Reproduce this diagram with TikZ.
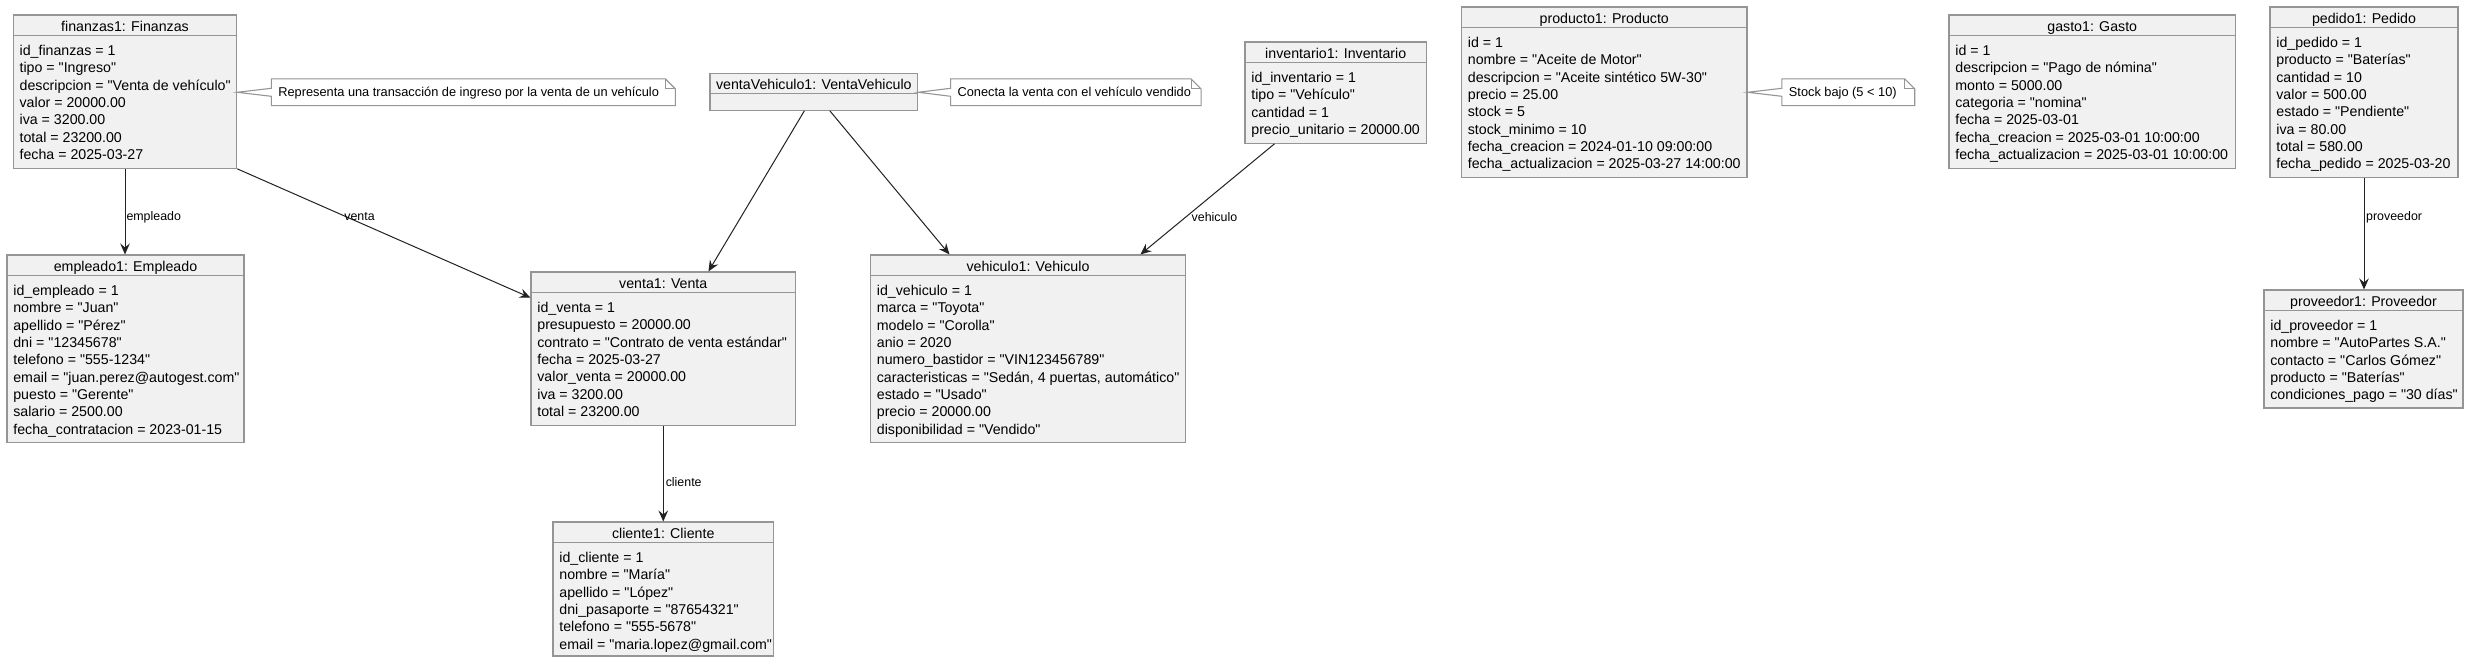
\documentclass[tikz,border=0pt]{standalone}
\usepackage{fontspec}
\newfontfamily\umlfont{Liberation Sans}
\usetikzlibrary{calc,fit,arrows.meta}
\definecolor{boxfill}{HTML}{F1F1F1}
\definecolor{boxc}{HTML}{959595}
\definecolor{linec}{HTML}{222222}
\definecolor{notefill}{HTML}{FFFFFF}
\tikzset{
  objbox/.style={draw=boxc, fill=boxfill, line width=0.55pt, inner sep=0pt},
  hdr/.style={draw=boxc, line width=0.55pt},
  ttl/.style={anchor=base, inner sep=0pt, font=\umlfont\fontsize{7.1}{8.667}\selectfont},
  bodytxt/.style={anchor=north west, inner sep=0pt, align=left, font=\umlfont\fontsize{7.1}{8.667}\selectfont},
  conn/.style={draw=linec, line width=0.5pt, -{Stealth[length=5.5pt,width=4.8pt,inset=2pt]}},
  lbl/.style={anchor=base west, inner sep=0pt, font=\umlfont\fontsize{6.2}{7}\selectfont},
  notebox/.style={draw=boxc, fill=notefill, line width=0.55pt, line join=miter},
  notetxt/.style={anchor=base west, inner sep=0pt, font=\umlfont\fontsize{6.4}{7.5}\selectfont},
  noteframe/.style={inner sep=0pt},
}
\newcommand\objhead[2]{%
  \draw[hdr] ($(#1.north west)+(0,20.7)$) -- ($(#1.north east)+(0,20.7)$);
  \node[ttl] (#1-t) at ($(#1.north)+(0,16.7)$) {#2};}
\newcommand\objbody[2]{%
  \node[bodytxt] (#1-b) at ($(#1.north west)+(6.5,29.5)$) {\rule{0pt}{5.6pt}#2};}
\newcommand\umlnote[3]{%
  \draw[notebox] (#1.north west) -- ($(#1.north east)+(-10,0)$) -- ($(#1.north east)+(0,10)$)
     -- (#1.south east) -- (#1.south west) -- ($(#1.west)+(0,4)$) -- (#2.east |- #1.west)
     -- ($(#1.west)+(0,-4)$) -- cycle;
  \draw[notebox, fill=none] ($(#1.north east)+(-10,0)$) -- ($(#1.north east)+(-10,10)$) -- ($(#1.north east)+(0,10)$);
  \node[notetxt] (#1-t) at ($(#1.west)+(6.6,4.4)$) {#3};}
\begin{document}
\begin{tikzpicture}[x=0.5pt,y=-0.5pt]
\fill[white] (0,0) rectangle (2469,662);
\useasboundingbox (0,0) rectangle (2469,662);

% boxes
\node[objbox, fit={(13.3,15) (236.7,168.3)}] (finanzas) {};
\objhead{finanzas}{finanzas1: Finanzas}
\objbody{finanzas}{id\_finanzas = 1\\tipo = "Ingreso"\\descripcion = "Venta de vehículo"\\valor = 20000.00\\iva = 3200.00\\total = 23200.00\\fecha = 2025-03-27}

\node[objbox, fit={(7,255) (244,442.9)}] (empleado) {};
\objhead{empleado}{empleado1: Empleado}
\objbody{empleado}{id\_empleado = 1\\nombre = "Juan"\\apellido = "Pérez"\\dni = "12345678"\\telefono = "555-1234"\\email = "juan.perez@autogest.com"\\puesto = "Gerente"\\salario = 2500.00\\fecha\_contratacion = 2023-01-15}

\node[objbox, fit={(531,272) (795.5,425.3)}] (venta) {};
\objhead{venta}{venta1: Venta}
\objbody{venta}{id\_venta = 1\\presupuesto = 20000.00\\contrato = "Contrato de venta estándar"\\fecha = 2025-03-27\\valor\_venta = 20000.00\\iva = 3200.00\\total = 23200.00}

\node[objbox, fit={(553,522) (773.5,656)}] (cliente) {};
\objhead{cliente}{cliente1: Cliente}
\objbody{cliente}{id\_cliente = 1\\nombre = "María"\\apellido = "López"\\dni\_pasaporte = "87654321"\\telefono = "555-5678"\\email = "maria.lopez@gmail.com"}

\node[objbox, fit={(710,73.3) (917.7,110.3)}] (vv) {};
\objhead{vv}{ventaVehiculo1: VentaVehiculo}

\node[objbox, fit={(1245,42) (1426.5,143.3)}] (inventario) {};
\objhead{inventario}{inventario1: Inventario}
\objbody{inventario}{id\_inventario = 1\\tipo = "Vehículo"\\cantidad = 1\\precio\_unitario = 20000.00}

\node[objbox, fit={(870.5,255) (1185.5,442.9)}] (vehiculo) {};
\objhead{vehiculo}{vehiculo1: Vehiculo}
\objbody{vehiculo}{id\_vehiculo = 1\\marca = "Toyota"\\modelo = "Corolla"\\anio = 2020\\numero\_bastidor = "VIN123456789"\\caracteristicas = "Sedán, 4 puertas, automático"\\estado = "Usado"\\precio = 20000.00\\disponibilidad = "Vendido"}

\node[objbox, fit={(1461.5,7) (1747,177.6)}] (producto) {};
\objhead{producto}{producto1: Producto}
\objbody{producto}{id = 1\\nombre = "Aceite de Motor"\\descripcion = "Aceite sintético 5W-30"\\precio = 25.00\\stock = 5\\stock\_minimo = 10\\fecha\_creacion = 2024-01-10 09:00:00\\fecha\_actualizacion = 2025-03-27 14:00:00}

\node[objbox, fit={(1949,15) (2235.5,168.3)}] (gasto) {};
\objhead{gasto}{gasto1: Gasto}
\objbody{gasto}{id = 1\\descripcion = "Pago de nómina"\\monto = 5000.00\\categoria = "nomina"\\fecha = 2025-03-01\\fecha\_creacion = 2025-03-01 10:00:00\\fecha\_actualizacion = 2025-03-01 10:00:00}

\node[objbox, fit={(2270,7) (2458,177.6)}] (pedido) {};
\objhead{pedido}{pedido1: Pedido}
\objbody{pedido}{id\_pedido = 1\\producto = "Baterías"\\cantidad = 10\\valor = 500.00\\estado = "Pendiente"\\iva = 80.00\\total = 580.00\\fecha\_pedido = 2025-03-20}

\node[objbox, fit={(2264,290) (2463,408)}] (proveedor) {};
\objhead{proveedor}{proveedor1: Proveedor}
\objbody{proveedor}{id\_proveedor = 1\\nombre = "AutoPartes S.A."\\contacto = "Carlos Gómez"\\producto = "Baterías"\\condiciones\_pago = "30 días"}

% notes
\node[noteframe, fit={(271.7,79.3) (675,105.3)}] (note1) {};
\umlnote{note1}{finanzas}{Representa una transacción de ingreso por la venta de un vehículo}
\node[noteframe, fit={(951,79.3) (1200.7,105.3)}] (note2) {};
\umlnote{note2}{vv}{Conecta la venta con el vehículo vendido}
\node[noteframe, fit={(1782.3,79.3) (1914.3,105.3)}] (note3) {};
\umlnote{note3}{producto}{Stock bajo (5 < 10)}

% connectors
\draw[conn] (finanzas.south) -- (finanzas.south |- empleado.north)
  node[lbl, pos=0.607, xshift=0.5pt] (l-emp) {empleado};
\draw[conn] (finanzas.south east) -- ($(venta.north west)+(0,26.3)$)
  node[lbl, pos=0.4046, xshift=-6pt] (l-venta) {venta};
\draw[conn] ($(vv.south)+(-9.5,0)$) -- ($(venta.north west)+(178,0)$);
\draw[conn] ($(vv.south)+(16,0)$) -- ($(vehiculo.north west)+(79.5,0)$);
\draw[conn] ($(inventario.south west)+(30,0)$) -- ($(vehiculo.north west)+(270.5,0)$)
  node[lbl, pos=0.7007, xshift=5.3pt] (l-veh) {vehiculo};
\draw[conn] (venta.south) -- (venta.south |- cliente.north)
  node[lbl, pos=0.637, xshift=1pt] (l-cli) {cliente};
\draw[conn] (pedido.south) -- (pedido.south |- proveedor.north)
  node[lbl, pos=0.385, xshift=0.85pt] (l-prov) {proveedor};
\end{tikzpicture}
\end{document}
